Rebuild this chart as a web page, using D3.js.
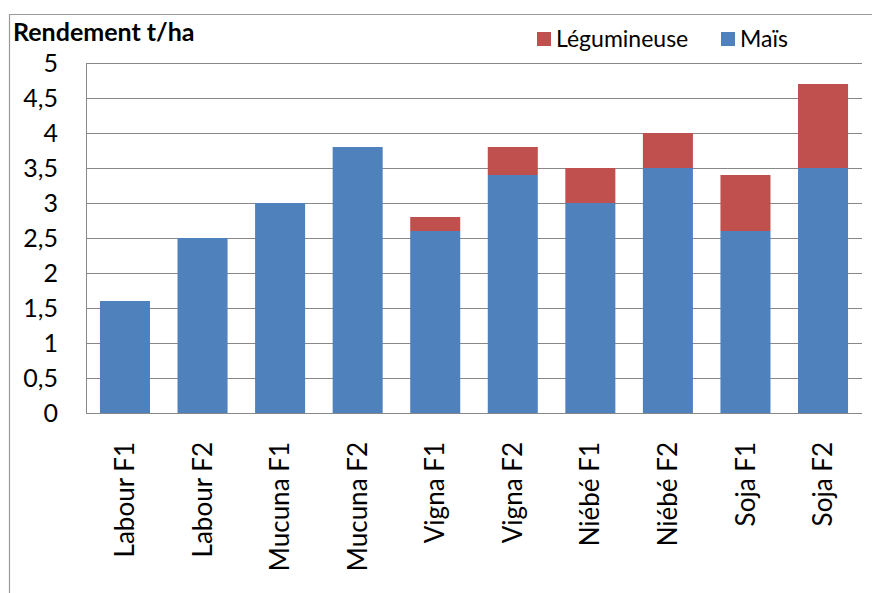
<!DOCTYPE html>
<html>
<head>
<meta charset="utf-8">
<script src="https://cdn.jsdelivr.net/npm/d3@7"></script>
<style>
  body { margin: 0; background: #fff; }
  svg text { font-family: Lato, "Open Sans", sans-serif; fill: #000; }
</style>
</head>
<body>
<svg id="viz" width="872" height="593"></svg>
<script>
// data
var categories = ["Labour F1", "Labour F2", "Mucuna F1", "Mucuna F2", "Vigna F1",
                  "Vigna F2", "Niébé F1", "Niébé F2", "Soja F1", "Soja F2"];
var mais        = [1.6, 2.5, 3.0, 3.8, 2.6, 3.4, 3.0, 3.5, 2.6, 3.5];
var legumineuse = [0,   0,   0,   0,   0.2, 0.4, 0.5, 0.5, 0.8, 1.2];
var yTicks = [0, 0.5, 1, 1.5, 2, 2.5, 3, 3.5, 4, 4.5, 5];

var seriesNames = ["Maïs", "Légumineuse"];
var colors = { "Maïs": "#4F81BD", "Légumineuse": "#C0504D" };

var svg = d3.select("#viz");
var plot = { left: 86, right: 862, top: 63, bottom: 413 };

// outer frame (chart area border)
svg.append("path")
    .attr("d", "M9.5,593 V14.5 H872")
    .attr("fill", "none")
    .attr("stroke", "#999")
    .attr("stroke-width", 1.2);

var x = d3.scaleBand()
    .domain(categories)
    .range([plot.left, plot.right])
    .paddingInner(0.355)
    .paddingOuter(0.18);

var y = d3.scaleLinear()
    .domain([0, 5])
    .range([plot.bottom, plot.top]);

// gridlines
svg.append("g").selectAll("line")
    .data(yTicks)
    .enter().append("line")
      .attr("x1", plot.left).attr("x2", plot.right)
      .attr("y1", function(d) { return Math.round(y(d)) + 0.5; })
      .attr("y2", function(d) { return Math.round(y(d)) + 0.5; })
      .attr("stroke", "#888")
      .attr("stroke-width", 1);

// left axis line
svg.append("line")
    .attr("x1", plot.left + 0.5).attr("x2", plot.left + 0.5)
    .attr("y1", plot.top).attr("y2", plot.bottom)
    .attr("stroke", "#888");

// stacked bars
var table = categories.map(function(c, i) {
  return { cat: c, "Maïs": mais[i], "Légumineuse": legumineuse[i] };
});
var stack = d3.stack().keys(seriesNames);

svg.append("g").selectAll("g")
    .data(stack(table))
    .enter().append("g")
      .attr("fill", function(d) { return colors[d.key]; })
    .selectAll("rect")
    .data(function(d) { return d.filter(function(p) { return p[1] > p[0]; }); })
    .enter().append("rect")
      .attr("x", function(d) { return x(d.data.cat); })
      .attr("width", x.bandwidth())
      .attr("y", function(d) { return y(d[1]); })
      .attr("height", function(d) { return y(d[0]) - y(d[1]); });

// y tick labels
var fmt = function(d) { return String(d).replace(".", ","); };
svg.append("g").selectAll("text")
    .data(yTicks)
    .enter().append("text")
      .attr("x", 58)
      .attr("y", function(d) { return y(d); })
      .attr("dy", "0.35em")
      .attr("text-anchor", "end")
      .attr("font-size", 25)
      .text(fmt);

// x labels, rotated
svg.append("g").selectAll("text")
    .data(categories)
    .enter().append("text")
      .attr("transform", function(d) {
        return "translate(" + (x(d) + x.bandwidth() / 2) + "," + 442 + ") rotate(-90)";
      })
      .attr("dy", "0.35em")
      .attr("text-anchor", "end")
      .attr("font-size", 26)
      .text(function(d) { return d; });

// title
svg.append("text")
    .attr("x", 13).attr("y", 41)
    .attr("font-size", 25)
    .attr("font-weight", "bold")
    .text("Rendement t/ha");

// legend
var legendItems = [
  { name: "Légumineuse", x: 537 },
  { name: "Maïs", x: 721 }
];
var lg = svg.append("g").selectAll("g")
    .data(legendItems)
    .enter().append("g")
      .attr("transform", function(d) { return "translate(" + d.x + ",32)"; });
lg.append("rect")
    .attr("width", 14).attr("height", 14)
    .attr("fill", function(d) { return colors[d.name]; });
lg.append("text")
    .attr("x", 19).attr("y", 7)
    .attr("dy", "0.35em")
    .attr("font-size", 23)
    .text(function(d) { return d.name; });
</script>
</body>
</html>
